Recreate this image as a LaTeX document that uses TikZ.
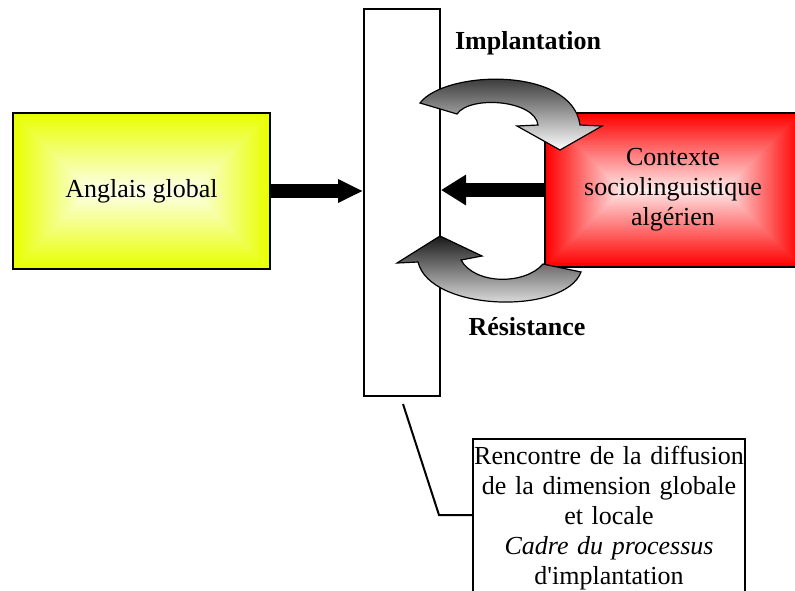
\documentclass[tikz,border=0pt]{standalone}
\usepackage{fontspec}
\setmainfont{Liberation Serif}
\usepackage{tikz}
\usetikzlibrary{calc}
\usetikzlibrary{arrows.meta}

\definecolor{jauneglobal}{RGB}{232,255,0}
\definecolor{rougelocal}{RGB}{255,0,0}

\tikzset{
  boite/.style={draw, line width=1pt, font=\fontsize{13}{15}\selectfont, align=center},
  % rectangular "centre" gradient: nested rectangles, colour -> white
  degrade/.style={path picture={
    \foreach \i in {0,1,...,39}
    {
      \pgfmathsetmacro{\pct}{100-2.4*\i}
      \fill[#1!\pct!white] ($(path picture bounding box.north west)+(\i*2,\i*2)$)
        rectangle ($(path picture bounding box.south east)-(\i*2,\i*2)$);
    }}},
  fleche/.style={line width=7pt, -{Triangle[length=12.5pt,width=#1]}},
  courbe/.style={draw=black, line width=0.6pt, top color=black!90, bottom color=white},
  titre/.style={font=\fontsize{13}{15}\selectfont\bfseries}
}

\begin{document}
\begin{tikzpicture}[x=0.5pt,y=-0.5pt]
	%% whole picture, in pixels of the original (y going down)
	\useasboundingbox (0,0) rectangle (795,590);

	%% The two shaded boxes and the meeting frame
	\node[boite, degrade=jauneglobal, minimum width=128.5pt, minimum height=78pt]
	  (anglais) at (141.5,191) {Anglais global};
	\node[boite, degrade=rougelocal, minimum width=128pt, minimum height=77pt]
	  (contexte) at (673,190) {Contexte\\sociolinguistique\\algérien};
	\node[draw, fill=white, line width=1pt, minimum width=38pt, minimum height=193.5pt]
	  (cadre) at (402,202.5) {};

	%% Straight arrows into the frame
	\draw[fleche=11pt] (anglais.east) -- (cadre.west |- anglais.east);
	\draw[fleche=14.5pt] (contexte.west) -- (cadre.east |- contexte.west);

	%% Curved arrows
	% implantation (frame -> context)
	\path[courbe] (420,103) .. controls (445,70) and (572,66) .. (580,125)
	  -- (602,126) -- (560,150) -- (517,126) -- (538,125)
	  .. controls (535,100) and (470,95) .. (457,114) -- cycle;
	% resistance (context -> frame)
	\path[courbe] (581,272) .. controls (565,315) and (430,312) .. (418,262)
	  -- (397,263) -- (440,236) -- (482,256) -- (461,260)
	  .. controls (475,285) and (525,285) .. (543,264) -- cycle;

	\node[titre] (implantation) at (528,43) {Implantation};
	\node[titre] (resistance) at (527,327) {Résistance};

	%% Callout under the frame (runs off the bottom edge)
	\node[boite, anchor=north, text width=136pt, inner xsep=0pt, inner ysep=3.5pt]
	  (note) at (609,438)
	  {Rencontre de la diffusion\\de la dimension globale\\et locale\\
	   \textit{Cadre du processus}\\d\textquotesingle implantation\\\mbox{}};

	\coordinate (pied) at (403,404);
	\coordinate (coude) at (439,515);
	\draw[line width=1pt] (pied) -- (coude) -- (note.west |- coude);
\end{tikzpicture}
\end{document}
